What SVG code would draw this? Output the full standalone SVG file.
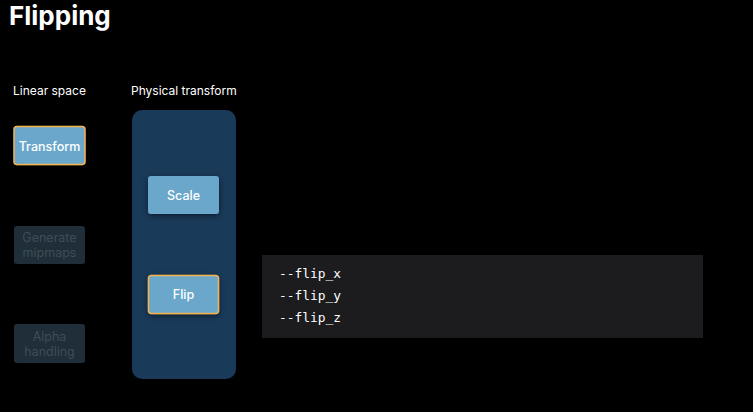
<svg xmlns="http://www.w3.org/2000/svg" width="753" height="412" viewBox="0 0 753 412">
<defs>
<filter id="sh" x="-30%" y="-30%" width="160%" height="170%"><feDropShadow dx="0" dy="2" stdDeviation="3" flood-color="#000" flood-opacity="0.5"/></filter>
</defs>
<style>
.lbl{font-family:"Inter","Liberation Sans",sans-serif;font-size:12px;fill:#ffffff}
.node{fill:#6aa7cb;filter:url(#sh)}
.sel{stroke:#f2b352;stroke-width:1.5}
.nt{font-family:"Inter","Liberation Sans",sans-serif;font-size:12.5px;font-weight:500;fill:#ffffff;text-anchor:middle}
.dim{fill:#1f2e38}
.dt{font-family:"Inter","Liberation Sans",sans-serif;font-size:12.5px;fill:#3e4d56;text-anchor:middle}
.code{font-family:"DejaVu Sans Mono","Liberation Mono",monospace;font-size:12.9px;fill:#ffffff}
</style>
<rect width="753" height="412" fill="#000"/>
<text x="9" y="25" font-family="Inter,'Liberation Sans',sans-serif" font-size="26" font-weight="700" fill="#fff">Flipping</text>
<text class="lbl" x="13" y="95">Linear space</text>
<text class="lbl" x="131" y="95">Physical transform</text>
<rect id="panel" x="132" y="110" width="104" height="269" rx="10" fill="#1a3a5a"/>
<g id="transform"><rect class="node sel" x="14" y="126.5" width="71" height="38" rx="3"/><text class="nt" x="49.5" y="150.5">Transform</text></g>
<g id="mipmaps"><rect class="dim" x="14" y="226" width="71" height="38" rx="3"/><text class="dt" x="49.5" y="242">Generate</text><text class="dt" x="49.5" y="257">mipmaps</text></g>
<g id="alpha"><rect class="dim" x="14" y="324" width="71" height="39" rx="3"/><text class="dt" x="49.5" y="341">Alpha</text><text class="dt" x="49.5" y="356">handling</text></g>
<g id="scale"><rect class="node" x="148" y="176" width="71" height="38" rx="3"/><text class="nt" x="183.5" y="199.5">Scale</text></g>
<g id="flip"><rect class="node sel" x="148.5" y="275.5" width="70" height="38" rx="3"/><text class="nt" x="183.5" y="299">Flip</text></g>
<g id="codebox"><rect x="262" y="255" width="441" height="83" fill="#1c1c1e"/>
<text class="code" x="279" y="278">--flip_x</text>
<text class="code" x="279" y="300">--flip_y</text>
<text class="code" x="279" y="322">--flip_z</text></g>
<g id="connectors"/>
</svg>
